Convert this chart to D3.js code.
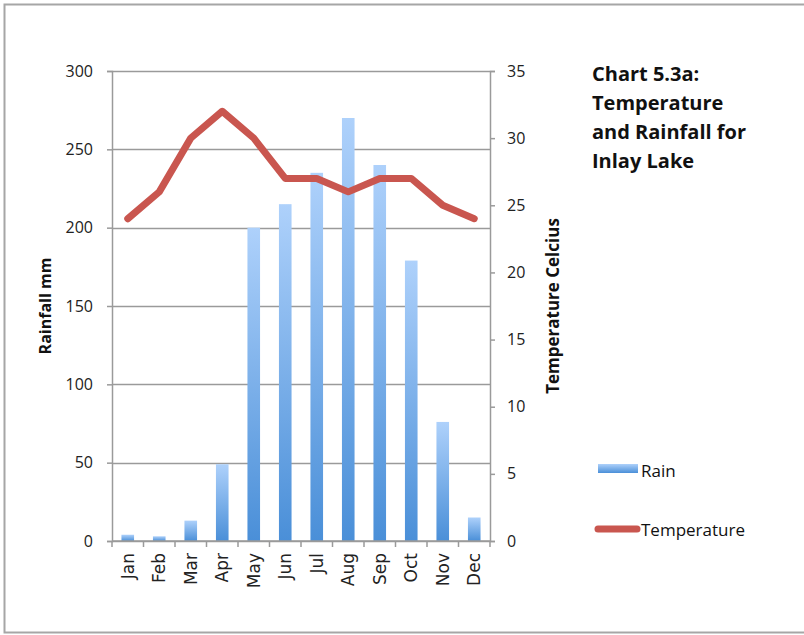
<!DOCTYPE html>
<html>
<head>
<meta charset="utf-8">
<script src="https://cdn.jsdelivr.net/npm/d3@7"></script>
<style>
  body { margin: 0; background: #fff; }
  svg { display: block; }
</style>
</head>
<body>
<svg id="chart"></svg>
<script>
// data
const months = ["Jan", "Feb", "Mar", "Apr", "May", "Jun", "Jul", "Aug", "Sep", "Oct", "Nov", "Dec"];
const rain = [4, 3, 13, 49, 200, 215, 235, 270, 240, 179, 76, 15];
const temperature = [24, 26, 30, 32, 30, 27, 27, 26, 27, 27, 25, 24];
const rainTicks = [0, 50, 100, 150, 200, 250, 300];
const tempTicks = [0, 5, 10, 15, 20, 25, 30, 35];
const titleLines = ["Chart 5.3a:", "Temperature", "and Rainfall for", "Inlay Lake"];

const width = 804;
const height = 635;
const marginTop = 71;
const marginBottom = 94;
const marginLeft = 112;
const plotRight = 490;

const svg = d3.select("#chart")
    .attr("width", width)
    .attr("height", height)
    .attr("viewBox", `0 0 ${width} ${height}`)
    .style("font-family", "'Open Sans', sans-serif");

// outer frame
svg.append("rect")
    .attr("x", 4.5).attr("y", 4.5)
    .attr("width", width + 10).attr("height", 628)
    .attr("fill", "none")
    .attr("stroke", "#a6a6a6")
    .attr("stroke-width", 2);

const defs = svg.append("defs");
const grad = defs.append("linearGradient")
    .attr("id", "barGrad")
    .attr("x1", 0).attr("y1", 0).attr("x2", 0).attr("y2", 1);
grad.append("stop").attr("offset", "0%").attr("stop-color", "#aed1fb");
grad.append("stop").attr("offset", "100%").attr("stop-color", "#4a8fd8");

const x = d3.scaleBand()
    .domain(months)
    .range([marginLeft, plotRight])
    .paddingInner(0.6)
    .paddingOuter(0.3);

const xb = d3.scaleBand()
    .domain(months)
    .range([marginLeft, plotRight]);

const y = d3.scaleLinear()
    .domain([0, 300])
    .range([height - marginBottom, marginTop]);

const y2 = d3.scaleLinear()
    .domain([0, 35])
    .range([height - marginBottom, marginTop]);

// gridlines
svg.append("g")
    .selectAll("line")
    .data(rainTicks)
    .join("line")
    .attr("x1", marginLeft).attr("x2", plotRight)
    .attr("y1", d => Math.round(y(d)) + 0.5)
    .attr("y2", d => Math.round(y(d)) + 0.5)
    .attr("stroke", "#9a9a9a")
    .attr("stroke-width", 1.5);

// bars
svg.append("g")
    .selectAll("rect")
    .data(rain)
    .join("rect")
    .attr("x", (d, i) => x(months[i]))
    .attr("width", x.bandwidth())
    .attr("y", d => y(d))
    .attr("height", d => y(0) - y(d))
    .attr("fill", "url(#barGrad)");

// left axis
svg.append("g")
    .attr("transform", `translate(${marginLeft},0)`)
    .call(d3.axisLeft(y).tickValues(rainTicks).tickSize(5).tickPadding(14))
    .call(g => g.select(".domain").attr("stroke", "#9a9a9a").attr("stroke-width", 1.5))
    .call(g => g.selectAll(".tick line").attr("stroke", "#9a9a9a").attr("stroke-width", 1.5))
    .call(g => g.selectAll("text").attr("font-size", 16).attr("fill", "#222")
        .style("font-family", "'Open Sans', sans-serif"));

// right axis
svg.append("g")
    .attr("transform", `translate(${plotRight},0)`)
    .call(d3.axisRight(y2).tickValues(tempTicks).tickSize(5).tickPadding(12))
    .call(g => g.select(".domain").attr("stroke", "#9a9a9a").attr("stroke-width", 1.5))
    .call(g => g.selectAll(".tick line").attr("stroke", "#9a9a9a").attr("stroke-width", 1.5))
    .call(g => g.selectAll("text").attr("font-size", 16).attr("fill", "#222")
        .style("font-family", "'Open Sans', sans-serif"));

// bottom axis: ticks on band boundaries
const xAxis = svg.append("g")
    .attr("transform", `translate(0,${height - marginBottom})`);
xAxis.append("line")
    .attr("x1", marginLeft).attr("x2", plotRight)
    .attr("stroke", "#9a9a9a").attr("stroke-width", 1.5);
xAxis.selectAll("line.tk")
    .data(months.concat(["end"]))
    .join("line")
    .attr("class", "tk")
    .attr("x1", (d, i) => i < months.length ? xb(d) : plotRight)
    .attr("x2", (d, i) => i < months.length ? xb(d) : plotRight)
    .attr("y1", 0).attr("y2", 6)
    .attr("stroke", "#9a9a9a").attr("stroke-width", 1.5);
xAxis.selectAll("text")
    .data(months)
    .join("text")
    .attr("transform", d => `translate(${xb(d) + xb.bandwidth() / 2 + 6},12) rotate(-90)`)
    .attr("text-anchor", "end")
    .attr("font-size", 17)
    .attr("fill", "#222")
    .style("font-family", "'DejaVu Sans', sans-serif")
    .text(d => d);

// temperature line
const line = d3.line()
    .x((d, i) => xb(months[i]) + xb.bandwidth() / 2)
    .y(d => y2(d));

svg.append("path")
    .datum(temperature)
    .attr("fill", "none")
    .attr("stroke", "#c9564f")
    .attr("stroke-width", 7)
    .attr("stroke-linejoin", "round")
    .attr("stroke-linecap", "round")
    .attr("d", line);

// axis titles
svg.append("text")
    .attr("transform", `translate(51,${(y(0) + y(300)) / 2}) rotate(-90)`)
    .attr("text-anchor", "middle")
    .attr("font-size", 16)
    .attr("font-weight", "bold")
    .attr("fill", "#111")
    .text("Rainfall mm");

svg.append("text")
    .attr("transform", `translate(559,${(y(0) + y(300)) / 2}) rotate(-90)`)
    .attr("text-anchor", "middle")
    .attr("font-size", 17)
    .attr("font-weight", "bold")
    .attr("fill", "#111")
    .text("Temperature Celcius");

// title
svg.append("g")
    .selectAll("text")
    .data(titleLines)
    .join("text")
    .attr("x", 592)
    .attr("y", (d, i) => 81 + i * 29)
    .attr("font-size", 20)
    .attr("font-weight", "bold")
    .attr("fill", "#111")
    .text(d => d);

// legend
const legend = svg.append("g");
legend.append("rect")
    .attr("x", 598).attr("y", 464)
    .attr("width", 40).attr("height", 9)
    .attr("fill", "url(#barGrad)");
legend.append("text")
    .attr("x", 641).attr("y", 477)
    .attr("font-size", 17)
    .attr("fill", "#111")
    .text("Rain");
legend.append("line")
    .attr("x1", 598).attr("x2", 637)
    .attr("y1", 529).attr("y2", 529)
    .attr("stroke", "#c9564f")
    .attr("stroke-width", 7)
    .attr("stroke-linecap", "round");
legend.append("text")
    .attr("x", 641).attr("y", 536)
    .attr("font-size", 17)
    .attr("fill", "#111")
    .text("Temperature");
</script>
</body>
</html>
